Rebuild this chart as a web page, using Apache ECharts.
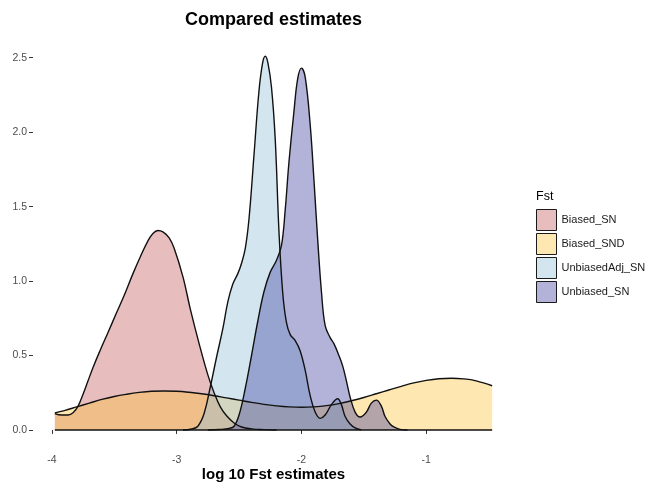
<!DOCTYPE html>
<html>
<head>
<meta charset="utf-8">
<script src="https://cdn.jsdelivr.net/npm/echarts@6.0.0/dist/echarts.min.js"></script>
<style>
  html, body { margin: 0; padding: 0; background: #fff; }
  #chart { width: 654px; height: 483px; }
</style>
</head>
<body>
<div id="chart"></div>
<script>
// groups (legend order = draw order)
const groups = ['Biased_SN', 'Biased_SND', 'UnbiasedAdj_SN', 'Unbiased_SN']
const fills = ['rgba(196,90,90,0.4)', 'rgba(255,195,60,0.4)', 'rgba(145,192,217,0.4)', 'rgba(65,65,160,0.4)']

// density estimates (x = log10 Fst)
const biasedSnX = [-3.976, -3.92, -3.87, -3.83, -3.79, -3.75, -3.71, -3.67, -3.61, -3.55, -3.48, -3.42, -3.35, -3.29, -3.23, -3.19, -3.15, -3.11, -3.06, -3.02, -2.95, -2.89, -2.82, -2.75, -2.70, -2.65, -2.60, -2.54, -2.48, -2.40, -2.30, -2.20]
const biasedSnY = [0.11, 0.1, 0.1, 0.115, 0.16, 0.24, 0.33, 0.42, 0.54, 0.655, 0.79, 0.905, 1.05, 1.165, 1.27, 1.32, 1.34, 1.33, 1.29, 1.22, 1.03, 0.81, 0.58, 0.37, 0.25, 0.155, 0.095, 0.047, 0.02, 0.007, 0.002, 0]

const biasedSndX = [-3.976, -3.9, -3.8, -3.7, -3.6, -3.5, -3.4, -3.3, -3.2, -3.1, -3.0, -2.9, -2.8, -2.7, -2.6, -2.5, -2.4, -2.3, -2.2, -2.1, -2.0, -1.9, -1.8, -1.7, -1.6, -1.5, -1.4, -1.3, -1.2, -1.1, -1.0, -0.9, -0.8, -0.7, -0.6, -0.472]
const biasedSndY = [0.115, 0.13, 0.155, 0.18, 0.205, 0.225, 0.24, 0.252, 0.26, 0.262, 0.26, 0.253, 0.243, 0.23, 0.215, 0.2, 0.185, 0.172, 0.162, 0.155, 0.152, 0.155, 0.163, 0.177, 0.196, 0.218, 0.243, 0.268, 0.293, 0.316, 0.333, 0.344, 0.347, 0.343, 0.33, 0.297]

const unbiasedAdjX = [-2.95, -2.88, -2.83, -2.78, -2.73, -2.68, -2.63, -2.59, -2.55, -2.51, -2.48, -2.45, -2.42, -2.38, -2.34, -2.31, -2.29, -2.27, -2.24, -2.21, -2.18, -2.15, -2.12, -2.09, -2.05, -2.01, -1.97, -1.93, -1.89, -1.85, -1.81, -1.76, -1.71, -1.68, -1.65, -1.61, -1.57, -1.52]
const unbiasedAdjY = [0, 0.006, 0.025, 0.11, 0.29, 0.49, 0.68, 0.86, 0.98, 1.05, 1.12, 1.22, 1.42, 1.85, 2.28, 2.47, 2.51, 2.47, 2.3, 1.95, 1.33, 0.92, 0.72, 0.64, 0.6, 0.53, 0.4, 0.23, 0.12, 0.078, 0.1, 0.17, 0.21, 0.17, 0.09, 0.04, 0.014, 0]

const unbiasedX = [-2.75, -2.66, -2.58, -2.54, -2.5, -2.45, -2.4, -2.35, -2.3, -2.25, -2.2, -2.16, -2.13, -2.1, -2.06, -2.03, -2.0, -1.97, -1.93, -1.9, -1.87, -1.84, -1.81, -1.77, -1.74, -1.7, -1.67, -1.64, -1.61, -1.57, -1.53, -1.48, -1.44, -1.4, -1.36, -1.33, -1.29, -1.26, -1.21, -1.15]
const unbiasedY = [0, 0.003, 0.01, 0.025, 0.1, 0.28, 0.5, 0.73, 0.93, 1.06, 1.14, 1.24, 1.48, 1.8, 2.14, 2.36, 2.43, 2.37, 2.05, 1.68, 1.28, 0.93, 0.7, 0.62, 0.58, 0.5, 0.43, 0.33, 0.22, 0.12, 0.087, 0.12, 0.18, 0.2, 0.16, 0.09, 0.04, 0.02, 0.004, 0]

// axis ticks
const xTicks = [-4, -3, -2, -1]
const yTicks = [0, 0.5, 1, 1.5, 2, 2.5]

const FONT = '"Liberation Sans", Arial, sans-serif'
const curves = [
  [biasedSnX, biasedSnY],
  [biasedSndX, biasedSndY],
  [unbiasedAdjX, unbiasedAdjY],
  [unbiasedX, unbiasedY],
]

const zip = (xs, ys) => xs.map((x, i) => [x, ys[i]])

const series = curves.map(([xs, ys], i) => ({
  name: groups[i],
  type: 'line',
  data: zip(xs, ys),
  smooth: 0.4,
  symbol: 'none',
  silent: true,
  itemStyle: { color: fills[i] },
  lineStyle: { color: '#111', width: 1.4 },
  areaStyle: { color: fills[i], opacity: 1 },
}))

// 基线（密度为0）
series.push({
  type: 'line',
  data: [[biasedSndX[0], 0], [biasedSndX[biasedSndX.length - 1], 0]],
  symbol: 'none',
  silent: true,
  lineStyle: { color: '#111', width: 1.4 },
})

const chart = echarts.init(document.getElementById('chart'))
chart.setOption({
  animation: false,
  backgroundColor: '#fff',
  textStyle: { fontFamily: FONT },
  title: [
    {
      text: 'Compared estimates',
      left: 273.5,
      top: 11,
      padding: 0,
      textAlign: 'center',
      textStyle: { fontFamily: FONT, fontSize: 18, fontWeight: 'bold', color: '#000' },
    },
    {
      text: 'Fst',
      left: 536,
      top: 190,
      padding: 0,
      textStyle: { fontFamily: FONT, fontSize: 12.5, fontWeight: 'normal', color: '#000' },
    },
  ],
  legend: {
    orient: 'vertical',
    left: 536,
    top: 209,
    padding: 0,
    itemWidth: 20,
    itemHeight: 21,
    itemGap: 2,
    icon: 'rect',
    selectedMode: false,
    itemStyle: { borderColor: '#1a1a1a', borderWidth: 1 },
    textStyle: { fontFamily: FONT, fontSize: 11, color: '#1a1a1a' },
    data: groups.map((name, i) => ({ name, itemStyle: { color: fills[i] } })),
  },
  grid: { left: 33, right: 140, top: 36, bottom: 34.3, containLabel: false, outerBoundsMode: 'none' },
  xAxis: {
    type: 'value',
    min: -4.151,
    max: -0.297,
    axisLine: { show: false },
    splitLine: { show: false },
    axisTick: { show: true, customValues: xTicks, length: 4, lineStyle: { color: '#333', width: 1 } },
    axisLabel: { customValues: xTicks, color: '#4d4d4d', fontSize: 10.5, margin: 6, fontFamily: FONT },
    name: 'log 10 Fst estimates',
    nameLocation: 'middle',
    nameGap: 19,
    nameMoveOverlap: false,
    nameTextStyle: { fontFamily: FONT, fontSize: 15, fontWeight: 'bold', color: '#000' },
  },
  yAxis: {
    type: 'value',
    min: -0.126,
    max: 2.646,
    axisLine: { show: false },
    splitLine: { show: false },
    axisTick: { show: true, customValues: yTicks, length: 4, lineStyle: { color: '#333', width: 1 } },
    axisLabel: {
      customValues: yTicks,
      color: '#4d4d4d',
      fontSize: 10.5,
      margin: 6,
      fontFamily: FONT,
      formatter: (v) => v.toFixed(1),
    },
  },
  series,
})
</script>
</body>
</html>
